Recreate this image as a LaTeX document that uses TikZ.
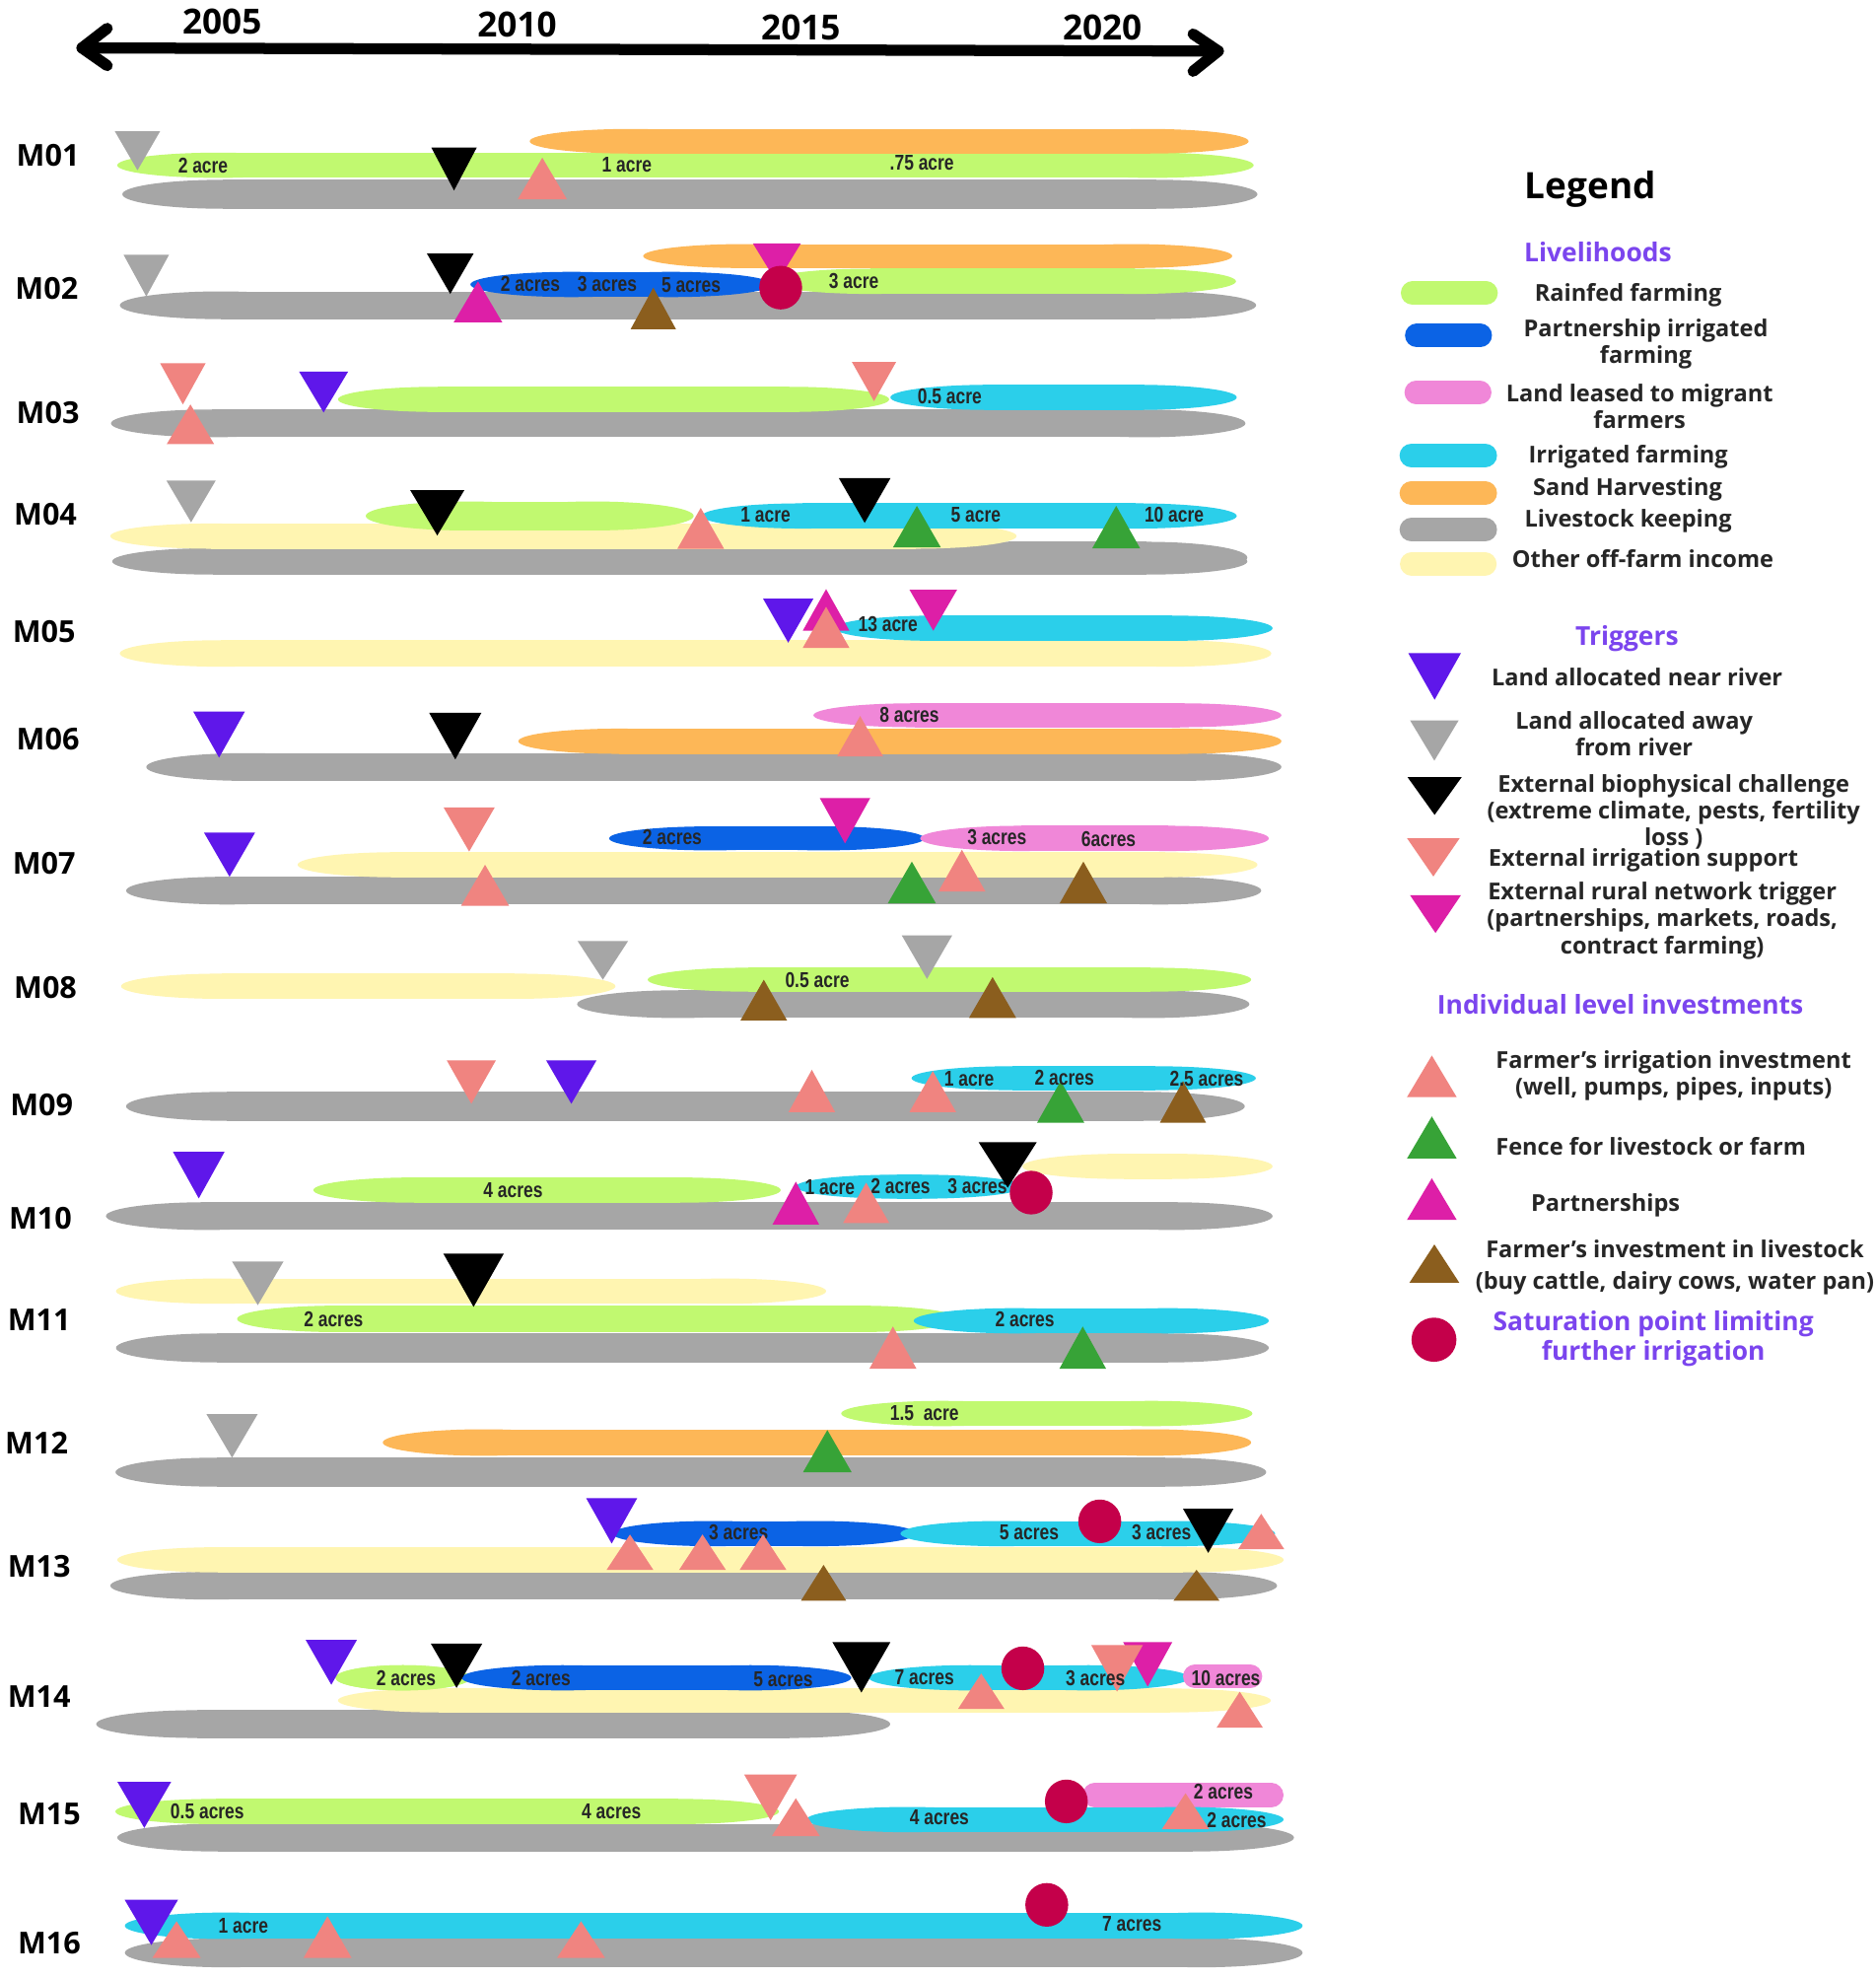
\documentclass[tikz,border=0pt]{standalone}
\usepackage{fontspec}
\setmainfont{Open Sans}
\newfontfamily\acrefont[FakeStretch=0.8]{Liberation Sans}
\usetikzlibrary{calc}
\definecolor{cgreen}{HTML}{C1F970}
\definecolor{cblue}{HTML}{0B63E5}
\definecolor{cpink}{HTML}{F087D8}
\definecolor{ccyan}{HTML}{2BCFEA}
\definecolor{corange}{HTML}{FDB757}
\definecolor{cgray}{HTML}{A6A6A6}
\definecolor{cyellow}{HTML}{FFF5B1}
\definecolor{tpurple}{HTML}{5F17EA}
\definecolor{tgray}{HTML}{A6A6A6}
\definecolor{tsalmon}{HTML}{F08480}
\definecolor{tmagenta}{HTML}{DD1FA7}
\definecolor{tgreen}{HTML}{37A337}
\definecolor{tbrown}{HTML}{8B5E1E}
\definecolor{csat}{HTML}{C4004A}
\definecolor{hpurple}{HTML}{7B45EE}
\tikzset{
  rowlab/.style={font=\fontsize{8.7}{10}\selectfont\bfseries, inner sep=0pt},
  yearlab/.style={font=\fontsize{10}{12}\selectfont\bfseries, inner sep=0pt},
  acre/.style={font=\acrefont\fontsize{6.2}{7}\selectfont\bfseries, text=black!85, inner sep=0pt},
  legtxt/.style={font=\fontsize{6.7}{6.6}\selectfont\bfseries, text=black!85, align=center, inner sep=0pt},
  leghead/.style={font=\fontsize{7.5}{7.4}\selectfont\bfseries, text=hpurple, align=center, inner sep=0pt},
  axisline/.style={line width=3.2pt, line cap=round, line join=round},
}
% bar: color, x1, x2, y, height
\newcommand{\lbar}[5]{%
  \pgfmathsetmacro\Lc{min(80,(#3-#2)/2)}%
  \fill[#1] ({#2+\Lc},{#4-#5/2}) rectangle ({#3-\Lc},{#4+#5/2});%
  \fill[#1] ({#2+\Lc},#4) ellipse [x radius=\Lc, y radius={#5/2}];%
  \fill[#1] ({#3-\Lc},#4) ellipse [x radius=\Lc, y radius={#5/2}];}
% pill: color, x1, x2, y, height
\newcommand{\pill}[5]{\draw[#1, line width=#5*0.3639pt, line cap=round] ({#2+#5/2},#4) -- ({#3-#5/2},#4);}
% down triangle: color, cx, top, w, h
\newcommand{\dtri}[5]{\fill[#1] ({#2-#4/2},#3) -- ({#2+#4/2},#3) -- (#2,{#3+#5}) -- cycle;}
% up triangle: color, cx, base, w, h
\newcommand{\utri}[5]{\fill[#1] ({#2-#4/2},#3) -- ({#2+#4/2},#3) -- (#2,{#3-#5}) -- cycle;}
\newcommand{\satc}[2]{\fill[csat] (#1,#2) ellipse [x radius=17, y radius=17.3];}
\begin{document}
\begin{tikzpicture}[x=0.012791cm, y=-0.012791cm]
\useasboundingbox (0,0) rectangle (1487,1568);
\fill[white] (0,0) rectangle (1487,1568);

% ---------- axis ----------
\coordinate (axL) at (65,38);
\coordinate (axR) at (966,40.5);
\draw[axisline] (axL) -- (axR);
\draw[axisline] ($(axL)+(20,-15.5)$) -- (axL) -- ($(axL)+(20,14)$);
\draw[axisline] ($(axR)+(-20,-13.5)$) -- (axR) -- ($(axR)+(-20,16)$);
\node[yearlab] (y2005) at (176,17) {2005};
\node[yearlab] (y2010) at (410,19.5) {2010};
\node[yearlab] (y2015) at (635,22) {2015};
\node[yearlab] (y2020) at (874,22) {2020};

% ---------- row labels ----------
\node[rowlab] (lM01) at (38,123) {M01};
\node[rowlab] (lM02) at (37,229) {M02};
\node[rowlab] (lM03) at (38,327) {M03};
\node[rowlab] (lM04) at (36,408) {M04};
\node[rowlab] (lM05) at (35,501) {M05};
\node[rowlab] (lM06) at (38,586) {M06};
\node[rowlab] (lM07) at (35,684) {M07};
\node[rowlab] (lM08) at (36,783) {M08};
\node[rowlab] (lM09) at (33,876) {M09};
\node[rowlab] (lM10) at (32,966) {M10};
\node[rowlab] (lM11) at (31,1046) {M11};
\node[rowlab] (lM12) at (29,1144) {M12};
\node[rowlab] (lM13) at (31,1242) {M13};
\node[rowlab] (lM14) at (31,1345) {M14};
\node[rowlab] (lM15) at (39,1438) {M15};
\node[rowlab] (lM16) at (39,1540) {M16};

% ---------- bars ----------
% M01
\lbar{cgray}{97}{997}{154}{23}
\lbar{cgreen}{93}{994}{131}{20}
\lbar{corange}{420}{990}{112}{19.5}
% M02
\lbar{cgray}{95}{996}{242}{22}
\lbar{corange}{510}{977}{203}{19}
\lbar{cgreen}{610}{980}{223}{20}
\lbar{cblue}{373}{612}{225.5}{20}
% M03
\lbar{cgray}{88}{987.5}{335.6}{22}
\lbar{cgreen}{268}{705}{316.6}{20}
\lbar{ccyan}{706}{980.6}{315}{20}
% M04
\lbar{cgray}{89}{989}{445}{21}
\lbar{cgray}{720}{989}{442}{25}
\lbar{cyellow}{87.5}{806}{425}{20}
\lbar{cgreen}{290}{550}{409}{23}
\lbar{ccyan}{556.6}{980.6}{409}{20}
% M05
\lbar{cyellow}{95}{1008}{518}{21}
\lbar{ccyan}{662}{1009}{498}{20}
% M06
\lbar{cgray}{116}{1016}{608}{22}
\lbar{corange}{411}{1016}{587.6}{20}
\lbar{cpink}{645}{1016}{567}{19}
% M07
\lbar{cgray}{100}{1000}{706}{22}
\lbar{cyellow}{236}{997}{685.5}{20}
\lbar{cblue}{483}{733}{664.6}{19}
\lbar{cpink}{729.6}{1006}{664.6}{20}
% M08
\lbar{cgray}{457.6}{990.6}{796}{22}
\lbar{cyellow}{96}{488}{781.8}{20}
\lbar{cgreen}{513.6}{992}{776.6}{19}
% M09
\lbar{cgray}{100}{987}{877}{23}
\lbar{ccyan}{722.8}{995.7}{854.7}{19}
% M10
\lbar{cgray}{84}{1009}{964}{22}
\lbar{cgreen}{248.5}{619}{943.4}{20}
\lbar{ccyan}{631}{811}{940.7}{19}
\lbar{cyellow}{810.7}{1009}{924.6}{20}
% M11
\lbar{cgray}{92}{1006}{1068.5}{23}
\lbar{cyellow}{92}{655}{1023.5}{20}
\lbar{cgreen}{188}{760}{1045.5}{21}
\lbar{ccyan}{724.5}{1006}{1047}{20}
% M12
\lbar{cgray}{91.6}{1004}{1167}{23}
\lbar{corange}{303.5}{992}{1143.5}{21}
\lbar{cgreen}{667}{993}{1120.5}{20}
% M13
\lbar{cgray}{87.5}{1012.6}{1257}{22}
\lbar{cyellow}{93}{1017.8}{1236.5}{20}
\lbar{cblue}{485.5}{726.6}{1215.7}{20}
\lbar{ccyan}{714}{1011}{1215.7}{20}
% M14
\lbar{cgray}{76.3}{705.8}{1366.7}{22}
\lbar{cyellow}{268}{1007.6}{1348}{19}
\lbar{cgreen}{266}{373}{1330}{20}
\lbar{cblue}{366}{675}{1330}{20}
\lbar{ccyan}{689}{943}{1330}{20}
\pill{cpink}{938}{1000.8}{1329}{19}
% M15
\lbar{cgray}{93}{1026}{1456.7}{22}
\lbar{cgreen}{91.5}{617.6}{1436}{20}
\pill{cpink}{858.4}{1017.7}{1423}{19.5}
\lbar{ccyan}{639.5}{1017.7}{1442.4}{20}
% M16
\lbar{cgray}{99}{1032.8}{1548}{23}
\lbar{ccyan}{99}{1032.8}{1526.6}{21}

% ---------- bar labels (under markers) ----------
\node[acre] (a01a) at (161,131) {2 acre};
\node[acre] (a01b) at (497,131) {1 acre};
\node[acre] (a01c) at (731,129) {.75 acre};
\node[acre] (a02a) at (420.5,225.5) {2 acres};
\node[acre] (a02b) at (481.5,225.5) {3 acres};
\node[acre] (a02c) at (548,226) {5 acres};
\node[acre] (a02d) at (677,223) {3 acre};
\node[acre] (a03a) at (753,314) {0.5 acre};
\node[acre] (a04a) at (607,408) {1 acre};
\node[acre] (a04b) at (773.7,408) {5 acre};
\node[acre] (a04c) at (931,408) {10 acre};
\node[acre] (a05a) at (704,495) {13 acre};
\node[acre] (a06a) at (721,567) {8 acres};
\node[acre] (a07a) at (533,663.5) {2 acres};
\node[acre] (a07b) at (790.5,664) {3 acres};
\node[acre] (a07c) at (879,665) {6acres};
\node[acre] (a08a) at (648,777) {0.5 acre};
\node[acre] (a10a) at (406.8,943.5) {4 acres};
\node[acre] (a10b) at (658,941) {1 acre};
\node[acre] (a10c) at (714,940) {2 acres};
\node[acre] (a10d) at (775,940) {3 acres};
\node[acre] (a11a) at (264.5,1045.5) {2 acres};
\node[acre] (a11b) at (812.6,1046) {2 acres};
\node[acre] (a12a) at (733,1120.5) {1.5~ acre};
\node[acre] (a13a) at (585.6,1215) {3 acres};
\node[acre] (a13b) at (816,1215) {5 acres};
\node[acre] (a13c) at (921,1215) {3 acres};
\node[acre] (a14a) at (322,1330) {2 acres};
\node[acre] (a14b) at (429,1330) {2 acres};
\node[acre] (a14c) at (621,1331) {5 acres};
\node[acre] (a14d) at (733,1330) {7 acres};
\node[acre] (a14f) at (972,1330) {10 acres};
\node[acre] (a15a) at (164.4,1436) {0.5 acres};
\node[acre] (a15b) at (484.8,1436) {4 acres};
\node[acre] (a15c) at (744.8,1441) {4 acres};
\node[acre] (a16a) at (193,1526.6) {1 acre};
\node[acre] (a16b) at (897.5,1525) {7 acres};

% ---------- markers ----------
% M01
\dtri{tgray}{109}{104}{36}{31}
\dtri{black}{360}{117}{36}{34}
\utri{tsalmon}{430}{158}{39}{33}
% M02
\dtri{tgray}{116}{202}{36}{33}
\dtri{black}{357}{201}{37}{32}
\dtri{tmagenta}{616}{193}{38}{31}
\satc{619}{228}
\utri{tmagenta}{379}{255.5}{38.5}{32.5}
\utri{tbrown}{518}{261}{36}{33}
% M03
\dtri{tsalmon}{145}{288}{36}{32.6}
\utri{tsalmon}{151}{352}{37.5}{31.4}
\dtri{tpurple}{256.6}{294.5}{39}{32.5}
\dtri{tsalmon}{693}{287}{35}{31}
% M04
\dtri{tgray}{151.5}{381}{39}{33}
\dtri{black}{346.7}{388.5}{43}{36}
\utri{tsalmon}{555.6}{435}{37}{32.4}
\dtri{black}{685.6}{379}{41}{35.5}
\utri{tgreen}{727}{434}{38}{33}
\utri{tgreen}{885}{434.7}{38}{33.7}
% M05
\dtri{tpurple}{625}{474.5}{40}{35}
\utri{tmagenta}{655}{500}{37}{33}
\utri{tsalmon}{655}{513.6}{37}{32.6}
\dtri{tmagenta}{740}{467.6}{37.6}{32.4}
% M06
\dtri{tpurple}{173.7}{564}{41}{36.6}
\dtri{black}{361}{565}{41.5}{37}
\utri{tsalmon}{682}{599.6}{36.5}{32}
% M07
\dtri{tpurple}{182}{660}{40.5}{35}
\dtri{tsalmon}{372}{640}{40.6}{35}
\utri{tsalmon}{384.6}{718}{38}{32.5}
\dtri{tmagenta}{670}{632.6}{40}{36}
\utri{tgreen}{723}{716}{38}{33}
\utri{tsalmon}{762.7}{706.8}{37.4}{33.2}
\utri{tbrown}{859}{716}{37.5}{33}
% M08
\dtri{tgray}{478}{746}{40}{30.6}
\dtri{tgray}{735}{741.5}{40}{34.5}
\utri{tbrown}{605.6}{809}{37}{32.4}
\utri{tbrown}{787}{807}{37.5}{32.5}
% M09
\dtri{tsalmon}{373.7}{840.5}{39}{34.5}
\dtri{tpurple}{453}{840.5}{40}{34.5}
\utri{tsalmon}{643.7}{881.6}{37}{33.6}
\utri{tsalmon}{739.6}{881.6}{37}{32.6}
\utri{tgreen}{841}{890}{37.4}{33}
\utri{tbrown}{938}{890}{36.6}{33}
% M10
\dtri{tpurple}{157.6}{913}{41}{37}
\utri{tmagenta}{631}{970.7}{37}{34}
\utri{tsalmon}{686.8}{969.5}{36.6}{32}
\dtri{black}{799}{905.5}{46}{36}
\satc{817.6}{945.4}
% M11
\dtri{tgray}{204.4}{1000}{40.8}{34.6}
\dtri{black}{375.5}{993.7}{48}{42.3}
\utri{tsalmon}{708}{1085}{37.3}{33.5}
\utri{tgreen}{858.5}{1085}{37}{33.5}
% M12
\dtri{tgray}{184}{1121}{40.6}{34.5}
\utri{tgreen}{656}{1167}{38.5}{33.4}
% M13
\dtri{tpurple}{485}{1187.6}{40.5}{36}
\utri{tsalmon}{499.5}{1244.4}{37}{28}
\utri{tsalmon}{557}{1244.4}{37}{28}
\utri{tsalmon}{605}{1244.4}{37}{28}
\utri{tbrown}{653}{1269}{36}{28.5}
\utri{tbrown}{948.7}{1269}{36.6}{24.6}
\satc{872}{1206}
\dtri{black}{958}{1196}{40}{35}
\utri{tsalmon}{1000}{1228}{36.5}{28}
% M14
\dtri{tpurple}{262.7}{1300}{40.6}{35.5}
\dtri{black}{362}{1303}{40.7}{35}
\dtri{black}{683}{1301.7}{46}{40}
\utri{tsalmon}{778}{1354.6}{36.7}{28}
\satc{811}{1322.5}
\dtri{tmagenta}{910}{1301.7}{39}{35.3}
\dtri{tsalmon}{885.7}{1304}{41}{37}
\utri{tsalmon}{983}{1369.5}{36.6}{28.5}
% M15
\dtri{tpurple}{114.4}{1412.5}{42.6}{36.5}
\dtri{tsalmon}{611}{1406.6}{42}{36.4}
\utri{tsalmon}{631}{1455.5}{38}{30}
\satc{845.5}{1428}
\utri{tsalmon}{940}{1450}{37.5}{28.5}
% M16
\utri{tsalmon}{140}{1552}{38.3}{29}
\dtri{tpurple}{120}{1505.9}{42.4}{36}
\utri{tsalmon}{259.7}{1552}{38}{33}
\utri{tsalmon}{460.7}{1552}{38}{29}
\satc{830}{1510}

% ---------- labels over markers ----------
\node[acre] (a09a) at (768.5,855) {1 acre};
\node[acre] (a09b) at (844,854) {2 acres};
\node[acre] (a09c) at (956.7,855) {2.5 acres};
\node[acre] (a14e) at (868.6,1330) {3 acres};
\node[acre] (a15d) at (970,1420.3) {2 acres};
\node[acre] (a15e) at (980.6,1443) {2 acres};

% ---------- legend ----------
\node[font=\fontsize{10.5}{12}\selectfont\bfseries, inner sep=0pt] (legtitle) at (1261,150) {Legend};
\node[leghead] (hlive) at (1267,200) {Livelihoods};
\pill{cgreen}{1110.7}{1187.6}{232.4}{18.6}
\pill{cblue}{1114}{1183}{266}{18.6}
\pill{cpink}{1113.6}{1182.6}{311}{18.6}
\pill{ccyan}{1109.7}{1187}{361}{19}
\pill{corange}{1109.7}{1187}{391}{18.6}
\pill{cgray}{1109.7}{1187}{420}{19}
\pill{cyellow}{1110}{1186.7}{447}{18.6}
\node[legtxt] (lrain) at (1291,233.8) {Rainfed farming};
\node[legtxt] (lpart) at (1305,273) {Partnership irrigated\\farming};
\node[legtxt] (llease) at (1300,322) {Land leased to migrant\\farmers};
\node[legtxt] (lirr) at (1291,362) {Irrigated farming};
\node[legtxt] (lsand) at (1290.5,388) {Sand Harvesting};
\node[legtxt] (llive) at (1291,413) {Livestock keeping};
\node[legtxt] (loff) at (1302.6,443) {Other off-farm income};

\node[leghead] (htrig) at (1290,506) {Triggers};
\dtri{tpurple}{1137.5}{517.7}{41.8}{37}
\dtri{tgray}{1137.3}{571}{38.6}{32}
\dtri{black}{1137.5}{616}{43}{30}
\dtri{tsalmon}{1136.5}{664.5}{41.7}{30.3}
\dtri{tmagenta}{1138.2}{709.6}{40.4}{30}
\node[legtxt] (tnear) at (1298,537) {Land allocated near river};
\node[legtxt] (taway) at (1295.7,581.4) {Land allocated away\\from river};
\node[legtxt, font=\fontsize{6.7}{6.2}\selectfont\bfseries] (tbio) at (1327,643.5) {External biophysical challenge\\(extreme climate, pests, fertility\\loss )};
\node[legtxt] (tirr) at (1303,682) {External irrigation support};
\node[legtxt] (tnet) at (1318,730) {External rural network trigger\\(partnerships, markets, roads,\\contract farming)};

\node[leghead] (hind) at (1284.7,796) {Individual level investments};
\utri{tsalmon}{1135.3}{869.7}{39.4}{33}
\utri{tgreen}{1135.3}{918.4}{39.4}{33.4}
\utri{tmagenta}{1135.3}{967}{39.4}{33}
\utri{tbrown}{1137.3}{1016.8}{39.5}{30.3}
\fill[csat] (1137,1062) ellipse [x radius=17.8, y radius=17.5];
\node[legtxt] (iirr) at (1327,853) {Farmer's irrigation investment\\(well, pumps, pipes, inputs)};
\node[legtxt] (ifence) at (1309,908.6) {Fence for livestock or farm};
\node[legtxt] (ipart) at (1273,955.4) {Partnerships};
\node[legtxt] (ilive) at (1328,1004.8) {Farmer's investment in livestock\\[2.6pt](buy cattle, dairy cows, water pan)};
\node[leghead] (isat) at (1311,1061) {Saturation point limiting\\further irrigation};
\end{tikzpicture}
\end{document}
